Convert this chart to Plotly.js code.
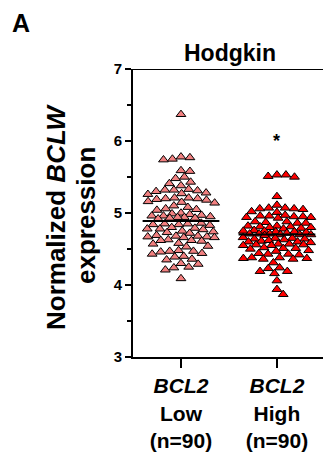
<!DOCTYPE html>
<html><head><meta charset="utf-8">
<script src="https://cdn.plot.ly/plotly-3.0.1.min.js"></script>
<style>html,body{margin:0;padding:0;background:#fff}#chart{width:323px;height:454px}</style>
</head><body><div id="chart"></div>
<script>
const categories = ['Low', 'High'];
const tickLabels = ['<i>BCL2</i><br>Low<br>(n=90)', '<i>BCL2</i><br>High<br>(n=90)'];
const yTicks = [3, 4, 5, 6, 7];

const bcl2Low = [
  6.37,
  5.78, 5.75, 5.74, 5.77,
  5.59, 5.58,
  5.50, 5.48,
  5.43, 5.41, 5.38,
  5.33, 5.32, 5.31, 5.32, 5.30,
  5.28, 5.27, 5.26,
  5.21, 5.20, 5.19, 5.20, 5.18, 5.21,
  5.16, 5.15, 5.14,
  5.10, 5.08,
  5.06, 5.05, 5.04,
  5.00, 4.99, 4.98, 4.97, 4.96, 4.96, 4.95, 4.94, 4.94, 4.93, 4.92, 4.93,
  4.85, 4.84, 4.83, 4.84, 4.86, 4.85,
  4.79, 4.78, 4.77, 4.78, 4.80,
  4.74, 4.73, 4.75, 4.72,
  4.68, 4.67, 4.66, 4.67, 4.68, 4.66, 4.69,
  4.62, 4.61, 4.63, 4.62,
  4.58, 4.57,
  4.54, 4.53,
  4.48, 4.47, 4.46, 4.47,
  4.44, 4.43,
  4.40, 4.39,
  4.36, 4.35,
  4.30, 4.29,
  4.25, 4.24,
  4.21,
  4.09
];

const bcl2High = [
  5.53, 5.51, 5.50, 5.53,
  5.23,
  5.11,
  5.07, 5.06, 5.05, 5.06, 5.07,
  5.02, 5.01,
  4.96, 4.95, 4.94, 4.94, 4.93, 4.95, 4.96, 4.97,
  4.88, 4.87, 4.86, 4.86, 4.88,
  4.82, 4.81, 4.80, 4.79, 4.80, 4.81, 4.82, 4.78,
  4.76, 4.75, 4.74, 4.75, 4.74, 4.73,
  4.71, 4.71, 4.70, 4.70, 4.72, 4.71, 4.70, 4.69,
  4.66, 4.65, 4.64, 4.63, 4.64, 4.65,
  4.61, 4.60, 4.59, 4.60, 4.62,
  4.57, 4.56, 4.55, 4.56, 4.57, 4.55,
  4.52, 4.51, 4.50, 4.51,
  4.48, 4.47,
  4.44, 4.43, 4.42, 4.43,
  4.38, 4.37, 4.36, 4.36, 4.37, 4.38,
  4.31,
  4.23, 4.24,
  4.19, 4.19,
  4.16,
  4.06,
  3.94,
  3.87
];

// geometry helpers (plot area in px)
const W = 323, H = 454;
const ML = 133, MR = 0, MT = 69, MB = 97;
const xRange = [-0.5, 1.48], yRange = [3, 7];
const plotW = W - ML - MR, plotH = H - MT - MB;
const pxPerX = plotW / (xRange[1] - xRange[0]);
const pxPerY = plotH / (yRange[1] - yRange[0]);
const paperX = px => (px - ML) / plotW;
const paperY = py => (H - MB - py) / plotH;

function median(a) {
  const s = a.slice().sort((p, q) => p - q);
  const n = s.length;
  return n % 2 ? s[(n - 1) / 2] : (s[n / 2 - 1] + s[n / 2]) / 2;
}

// beeswarm layout of x offsets (pixel based, anisotropic for triangles)
function swarm(vals, center, D0, aspect, maxW) {
  const idx = vals.map((v, i) => i).sort((a, b) => vals[b] - vals[a]);
  const placed = [];
  const out = new Array(vals.length);
  for (const i of idx) {
    const y = vals[i] * pxPerY * aspect;
    let best = null;
    for (let D = D0; D >= 2; D -= 0.5) {
      const cands = [0];
      for (const p of placed) {
        const dy = Math.abs(p.y - y);
        if (dy < D) {
          const dx = Math.sqrt(D * D - dy * dy);
          cands.push(p.x + dx, p.x - dx);
        }
      }
      cands.sort((a, b) => Math.abs(a) - Math.abs(b));
      for (const c of cands) {
        if (Math.abs(c) > maxW) break;
        let ok = true;
        for (const p of placed) {
          const dx = p.x - c, dy = p.y - y;
          if (dx * dx + dy * dy < D * D - 1e-6) { ok = false; break; }
        }
        if (ok) { best = c; break; }
      }
      if (best !== null) break;
    }
    if (best === null) best = 0;
    placed.push({ x: best, y: y });
    out[i] = center + best / pxPerX;
  }
  return out;
}

const groups = [bcl2Low, bcl2High];
const colors = ['#F28080', '#FF0000'];
const traces = [];
groups.forEach((vals, g) => {
  traces.push({
    type: 'scatter', mode: 'markers',
    x: swarm(vals, g, 9, 9 / 7, 34),
    y: vals,
    marker: { symbol: 'triangle-up', size: 8.5, color: colors[g], line: { color: '#000', width: 1 } },
    hoverinfo: 'skip'
  });
});
groups.forEach((vals, g) => {
  const m = median(vals);
  traces.push({
    type: 'scatter', mode: 'lines',
    x: [g - 0.4, g + 0.4], y: [m, m],
    line: { color: '#000', width: 2 },
    hoverinfo: 'skip'
  });
});

const FONT = 'Liberation Sans, Arial, Helvetica, sans-serif';
const layout = {
  width: W, height: H,
  margin: { l: ML, r: MR, t: MT, b: MB, pad: 0 },
  paper_bgcolor: '#fff', plot_bgcolor: '#fff',
  showlegend: false,
  hovermode: false,
  font: { family: FONT, color: '#000' },
  xaxis: {
    range: xRange, tickmode: 'array', tickvals: [0, 1], ticktext: tickLabels,
    showline: true, linewidth: 2, linecolor: '#000',
    ticks: 'outside', ticklen: 9, tickwidth: 2, tickcolor: '#000',
    showgrid: false, zeroline: false,
    tickfont: { family: FONT, size: 21, weight: 'bold', color: '#000' }
  },
  yaxis: {
    range: yRange, tickmode: 'array', tickvals: yTicks,
    showline: true, linewidth: 2, linecolor: '#000',
    ticks: 'outside', ticklen: 6, tickwidth: 2, tickcolor: '#000',
    minor: { tickvals: [3.5, 4.5, 5.5, 6.5], ticks: 'outside', ticklen: 4, tickwidth: 1.5, tickcolor: '#000', showgrid: false },
    showgrid: false, zeroline: false,
    tickfont: { family: FONT, size: 15, weight: 'bold', color: '#000' }
  },
  shapes: [
    { type: 'line', xref: 'paper', yref: 'y', x0: 0, x1: 1, y0: 7, y1: 7, line: { color: '#000', width: 2 } }
  ],
  annotations: [
    { text: 'A', xref: 'paper', yref: 'paper', x: paperX(10), y: paperY(7), xanchor: 'left', yanchor: 'top', showarrow: false, font: { family: FONT, size: 25, weight: 'bold', color: '#000' } },
    { text: 'Hodgkin', xref: 'paper', yref: 'paper', x: paperX(229.5), y: paperY(53), xanchor: 'center', yanchor: 'middle', showarrow: false, font: { family: FONT, size: 23, weight: 'bold', color: '#000' } },
    { text: 'Normalized <i>BCLW</i>', xref: 'paper', yref: 'paper', x: paperX(56), y: paperY(217), xanchor: 'center', yanchor: 'middle', textangle: -90, showarrow: false, font: { family: FONT, size: 26, weight: 'bold', color: '#000' } },
    { text: 'expression', xref: 'paper', yref: 'paper', x: paperX(86), y: paperY(216), xanchor: 'center', yanchor: 'middle', textangle: -90, showarrow: false, font: { family: FONT, size: 26, weight: 'bold', color: '#000' } },
    { text: '*', xref: 'x', yref: 'y', x: 1, y: 6.0, xanchor: 'center', yanchor: 'middle', showarrow: false, font: { family: FONT, size: 18, weight: 'bold', color: '#000' } }
  ]
};

Plotly.newPlot('chart', traces, layout, { displayModeBar: false, staticPlot: true });
</script>
</body></html>
